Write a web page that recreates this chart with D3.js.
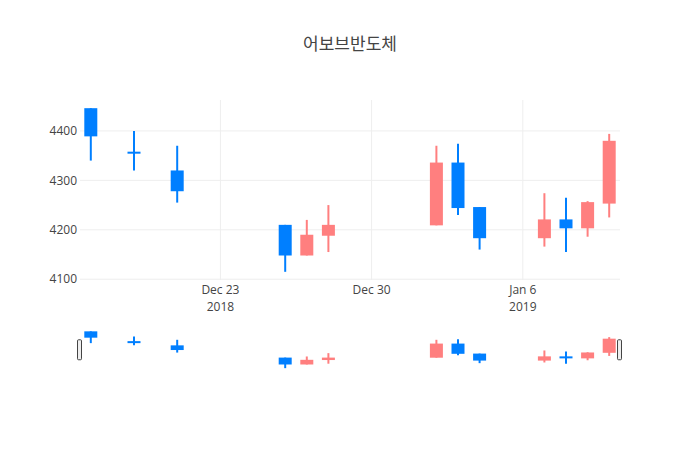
<!DOCTYPE html>
<html>
<head>
<meta charset="utf-8">
<script src="https://cdn.jsdelivr.net/npm/d3@7"></script>
<style>
    body { margin: 0; background: #fff; }
    text { font-family: 'Open Sans', 'Noto Sans CJK KR', sans-serif; fill: #444; }
</style>
</head>
<body>
<div id="candle-chart"></div>
<script>
// daily prices
const dates = ["2018-12-17", "2018-12-19", "2018-12-21", "2018-12-26", "2018-12-27", "2018-12-28",
    "2019-01-02", "2019-01-03", "2019-01-04", "2019-01-07", "2019-01-08", "2019-01-09", "2019-01-10"];
const opens  = [4446, 4358, 4320, 4210, 4148, 4188, 4209, 4336, 4246, 4183, 4221, 4203, 4253];
const highs  = [4446, 4400, 4370, 4210, 4220, 4250, 4370, 4374, 4246, 4274, 4265, 4258, 4394];
const lows   = [4340, 4320, 4255, 4115, 4148, 4155, 4209, 4230, 4160, 4166, 4155, 4186, 4225];
const closes = [4389, 4355, 4278, 4148, 4190, 4210, 4336, 4244, 4183, 4221, 4203, 4256, 4380];

const yTicks = [4100, 4200, 4300, 4400];
const xTicks = ["2018-12-23", "2018-12-30", "2019-01-06"];
const xTickLabels = [["Dec 23", "2018"], ["Dec 30", ""], ["Jan 6", "2019"]];
const title = "어보브반도체";

class Candles {
    constructor() {
        this.width = 700;
        this.height = 450;
        this.plot = { left: 80, right: 620, top: 100, bottom: 280 };
        this.slider = { top: 329.5, bottom: 370 };
        this.upColor = "#ff7f7f";
        this.downColor = "#007fff";
        this.data = dates.map((d, i) => ({
            date: d3.timeParse("%Y-%m-%d")(d),
            open: opens[i], high: highs[i], low: lows[i], close: closes[i]
        }));
        this.draw();
    }

    draw() {
        const parse = d3.timeParse("%Y-%m-%d");
        const svg = d3.select("#candle-chart").append("svg")
            .attr("width", this.width)
            .attr("height", this.height);

        const first = this.data[0].date, last = this.data[this.data.length - 1].date;
        const xScale = d3.scaleTime()
            .domain([d3.timeHour.offset(first, -12), d3.timeHour.offset(last, 12)])
            .range([this.plot.left, this.plot.right]);

        const lo = d3.min(lows), hi = d3.max(highs);
        const pad = (hi - lo) * 0.05;
        const yScale = d3.scaleLinear()
            .domain([lo - pad, hi + pad])
            .range([this.plot.bottom, this.plot.top]);
        const ySlider = d3.scaleLinear()
            .domain([lo - pad, hi + pad])
            .range([this.slider.bottom, this.slider.top]);

        // grid
        svg.append("g").selectAll("line.hgrid")
            .data(yTicks)
            .join("line")
            .attr("x1", this.plot.left).attr("x2", this.plot.right)
            .attr("y1", d => yScale(d)).attr("y2", d => yScale(d))
            .attr("stroke", "#eee").attr("stroke-width", 1);
        svg.append("g").selectAll("line.vgrid")
            .data(xTicks)
            .join("line")
            .attr("x1", d => xScale(parse(d))).attr("x2", d => xScale(parse(d)))
            .attr("y1", this.plot.top).attr("y2", this.plot.bottom)
            .attr("stroke", "#eee").attr("stroke-width", 1);

        // y labels
        svg.append("g").selectAll("text")
            .data(yTicks)
            .join("text")
            .attr("x", this.plot.left - 3)
            .attr("y", d => yScale(d))
            .attr("dy", "0.35em")
            .attr("text-anchor", "end")
            .style("font-size", "12px")
            .text(d => d);

        // x labels
        const xl = svg.append("g").selectAll("g")
            .data(xTicks)
            .join("g")
            .attr("transform", d => "translate(" + xScale(parse(d)) + ",0)");
        xl.append("text")
            .attr("y", this.plot.bottom + 14)
            .attr("text-anchor", "middle")
            .style("font-size", "12px")
            .text((d, i) => xTickLabels[i][0]);
        xl.append("text")
            .attr("y", this.plot.bottom + 31)
            .attr("text-anchor", "middle")
            .style("font-size", "12px")
            .text((d, i) => xTickLabels[i][1]);

        this.drawCandles(svg.append("g"), xScale, yScale);
        this.drawCandles(svg.append("g"), xScale, ySlider);

        // range slider grabbers
        svg.append("g").selectAll("rect")
            .data([this.plot.left, this.plot.right])
            .join("rect")
            .attr("x", d => d - 2.5)
            .attr("y", (this.slider.top + this.slider.bottom) / 2 - 10)
            .attr("width", 4)
            .attr("height", 20)
            .attr("rx", 1)
            .attr("fill", "#eee")
            .attr("stroke", "#444")
            .attr("stroke-width", 1);

        svg.append("text")
            .attr("x", this.width / 2)
            .attr("y", 44)
            .attr("dy", "0.35em")
            .attr("text-anchor", "middle")
            .style("font-size", "17px")
            .text(title);
    }

    drawCandles(g, xScale, yScale) {
        const color = d => d.close >= d.open ? this.upColor : this.downColor;
        const bw = 13;
        g.selectAll("line")
            .data(this.data)
            .join("line")
            .attr("x1", d => xScale(d.date)).attr("x2", d => xScale(d.date))
            .attr("y1", d => yScale(d.high)).attr("y2", d => yScale(d.low))
            .attr("stroke", color)
            .attr("stroke-width", 2);
        g.selectAll("rect")
            .data(this.data)
            .join("rect")
            .attr("x", d => xScale(d.date) - bw / 2)
            .attr("y", d => yScale(Math.max(d.open, d.close)))
            .attr("width", bw)
            .attr("height", d => Math.max(2, Math.abs(yScale(d.open) - yScale(d.close))))
            .attr("fill", color);
    }
}

new Candles();
</script>
</body>
</html>
